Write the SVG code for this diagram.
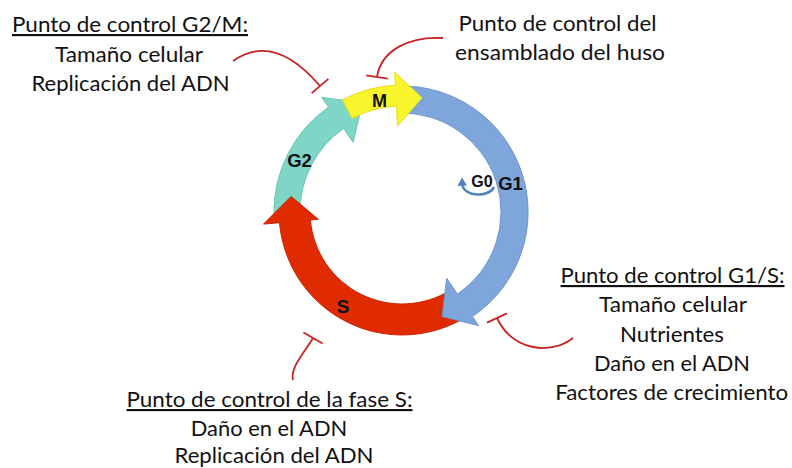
<svg xmlns="http://www.w3.org/2000/svg" width="792" height="468" viewBox="0 0 792 468">
  <style>
    .lbl { font-family: "Lato", "Liberation Sans", sans-serif; font-size: 21.5px; fill: #111; text-anchor: middle; }
    .hd { text-decoration: underline; }
    .ph { font-family: "Liberation Sans", Arial, sans-serif; font-weight: bold; fill: #111; text-anchor: middle; }
    .inh { fill: none; stroke: #c82323; stroke-width: 1.8; marker-end: url(#tbar); }
  </style>
  <defs>
    <marker id="tbar" viewBox="0 0 4 24" markerWidth="4" markerHeight="24" refX="2" refY="12" orient="auto" markerUnits="userSpaceOnUse">
      <line x1="2" y1="1" x2="2" y2="23" stroke="#c82323" stroke-width="1.8"/>
    </marker>
  </defs>
  <rect width="792" height="468" fill="#ffffff"/>

  <g id="node-G2">
    <path d="M 274.0 214.2 A 128 128 0 0 1 328.6 107.1 L 321.7 97.3 L 362.3 103.0 L 353.2 142.4 L 343.5 128.4 A 102 102 0 0 0 300.0 213.8 Z" fill="#7fd5c6" stroke="#6cc6b6" stroke-width="1"/>
    <text class="ph" x="299.5" y="167" font-size="18.5">G2</text>
  </g>
  <g id="node-S">
    <path d="M 467.2 316.3 A 123 123 0 0 1 279.5 222.7 L 263.5 224.1 L 291.1 196.4 L 318.3 219.3 L 310.4 220.0 A 92 92 0 0 0 450.8 290.0 Z" fill="#e02a00" stroke="#c92200" stroke-width="1"/>
    <text class="ph" x="343" y="313" font-size="19">S</text>
  </g>
  <g id="node-G1">
    <path d="M 397.6 86.1 A 126 126 0 0 1 472.5 316.5 L 478.6 325.6 L 442.1 316.6 L 446.7 278.3 L 457.4 294.1 A 99 99 0 0 0 398.5 113.1 Z" fill="#7fa6db" stroke="#6a94cf" stroke-width="1"/>
    <text class="ph" x="510.5" y="190" font-size="18.5">G1</text>
  </g>
  <g id="node-M">
    <path d="M 342.4 99.9 A 127 127 0 0 1 395.4 85.2 L 394.7 72.2 L 422.1 97.8 L 397.5 126.1 L 396.5 106.1 A 106 106 0 0 0 352.2 118.4 Z" fill="#f8f52c" stroke="#e2dd1e" stroke-width="1"/>
    <text class="ph" x="379.5" y="106.5" font-size="18">M</text>
  </g>
  <g id="node-G0">
    <path d="M 494 187 A 16 10 0 0 1 462.5 185" fill="none" stroke="#4f82ba" stroke-width="2.5"/>
    <path d="M 457.5 186 L 467 185.5 L 462 177.5 Z" fill="#4f82ba"/>
    <text class="ph" x="482" y="187" font-size="16">G0</text>
  </g>

  <g id="connectors">
    <path class="inh" d="M 233 61 Q 274 32 320 86"/>
    <path class="inh" d="M 443 38 C 410 36 381 50 377 77"/>
    <path class="inh" d="M 573 338 C 550 356 512 350 497 318"/>
    <path class="inh" d="M 293 380 C 290 367 305 352 313 338"/>
  </g>

  <g id="cp-G2M">
    <text class="lbl hd" x="130" y="32" textLength="236" lengthAdjust="spacingAndGlyphs">Punto de control G2/M:</text>
    <text class="lbl" x="129" y="62" textLength="148" lengthAdjust="spacingAndGlyphs">Tamaño celular</text>
    <text class="lbl" x="130.5" y="91" textLength="198" lengthAdjust="spacingAndGlyphs">Replicación del ADN</text>
  </g>
  <g id="cp-spindle">
    <text class="lbl" x="557.5" y="31" textLength="198" lengthAdjust="spacingAndGlyphs">Punto de control del</text>
    <text class="lbl" x="560" y="60" textLength="210" lengthAdjust="spacingAndGlyphs">ensamblado del huso</text>
  </g>
  <g id="cp-G1S">
    <text class="lbl hd" x="672.5" y="283" textLength="224" lengthAdjust="spacingAndGlyphs">Punto de control G1/S:</text>
    <text class="lbl" x="673" y="312" textLength="148" lengthAdjust="spacingAndGlyphs">Tamaño celular</text>
    <text class="lbl" x="672" y="342" textLength="104" lengthAdjust="spacingAndGlyphs">Nutrientes</text>
    <text class="lbl" x="672" y="371" textLength="156" lengthAdjust="spacingAndGlyphs">Daño en el ADN</text>
    <text class="lbl" x="671.7" y="400" textLength="233" lengthAdjust="spacingAndGlyphs">Factores de crecimiento</text>
  </g>
  <g id="cp-S">
    <text class="lbl hd" x="269.5" y="407" textLength="286" lengthAdjust="spacingAndGlyphs">Punto de control de la fase S:</text>
    <text class="lbl" x="269" y="436" textLength="156.5" lengthAdjust="spacingAndGlyphs">Daño en el ADN</text>
    <text class="lbl" x="274" y="463" textLength="199" lengthAdjust="spacingAndGlyphs">Replicación del ADN</text>
  </g>
</svg>
